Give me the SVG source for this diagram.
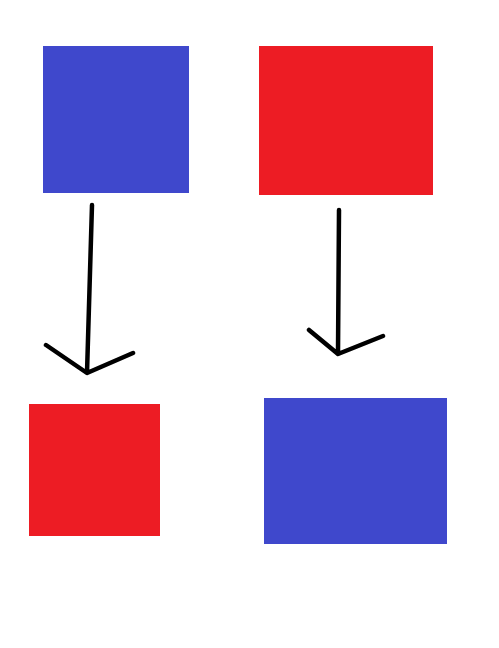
<svg xmlns="http://www.w3.org/2000/svg" width="499" height="648" viewBox="0 0 499 648">
<style>
.blue{fill:#3F48CC}
.red{fill:#ED1C24}
.ink{fill:none;stroke:#000;stroke-width:4.5;stroke-linecap:round;stroke-linejoin:round}
</style>
<rect width="499" height="648" fill="#fff"/>
<g id="node-top-left"><rect class="blue" x="43" y="46" width="146" height="147"/></g>
<g id="node-top-right"><rect class="red" x="259" y="46" width="174" height="149"/></g>
<g id="node-bottom-left"><rect class="red" x="29" y="404" width="131" height="132"/></g>
<g id="node-bottom-right"><rect class="blue" x="264" y="398" width="183" height="146"/></g>
<g id="connectors">
<path class="ink" d="M92 205 L87 373 M46 345 L87 373 L133 353"/>
<path class="ink" d="M339 210 L338 354 M309 330 L338 354 L383 336"/>
</g>
</svg>
